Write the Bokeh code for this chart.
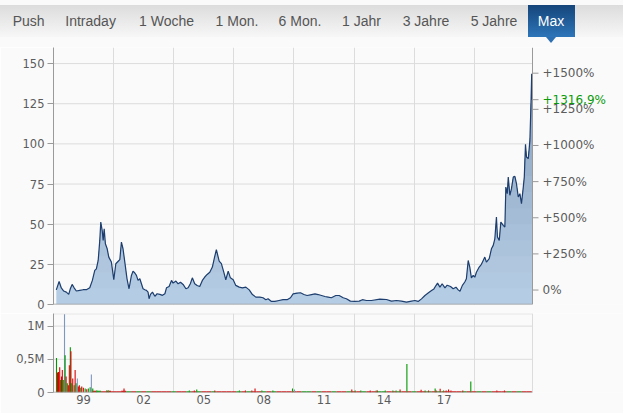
import numpy as np
from bokeh.plotting import figure
from bokeh.layouts import column
from bokeh.models import FixedTicker, Range1d, Div
from bokeh.core.properties import value
from bokeh.embed import file_html
from bokeh.resources import INLINE

# ---------------- data ----------------
tabs = ["Push", "Intraday", "1 Woche", "1 Mon.", "6 Mon.", "1 Jahr", "3 Jahre", "5 Jahre", "Max"]
active_tab = "Max"

years = [1998.14, 1998.28, 1998.39, 1998.51, 1998.64, 1998.76, 1998.84, 1998.93,
         1999.03, 1999.14, 1999.31, 1999.48, 1999.64, 1999.81, 1999.94,
         2000.06, 2000.14, 2000.23, 2000.31, 2000.36, 2000.43, 2000.48, 2000.53, 2000.59, 2000.68, 2000.76, 2000.89,
         2001.01, 2001.11, 2001.23, 2001.31, 2001.39, 2001.47, 2001.56, 2001.67, 2001.77, 2001.89, 2001.97,
         2002.06, 2002.14, 2002.22, 2002.31, 2002.39, 2002.47, 2002.56, 2002.64, 2002.72, 2002.77, 2002.84, 2002.94,
         2003.06, 2003.17, 2003.31, 2003.44, 2003.56, 2003.64, 2003.77, 2003.89, 2003.97,
         2004.11, 2004.22, 2004.34, 2004.47, 2004.61, 2004.72, 2004.83, 2004.93,
         2005.05, 2005.17, 2005.30, 2005.43, 2005.55, 2005.67, 2005.80, 2005.93,
         2006.04, 2006.13, 2006.27, 2006.38, 2006.50, 2006.60, 2006.72, 2006.83, 2006.97,
         2007.10, 2007.27, 2007.43, 2007.60, 2007.77, 2007.93,
         2008.10, 2008.30, 2008.46, 2008.60, 2008.71, 2008.88,
         2009.05, 2009.26, 2009.46, 2009.66, 2009.83, 2009.96,
         2010.16, 2010.33, 2010.50, 2010.66, 2010.88,
         2011.05, 2011.21, 2011.38, 2011.55, 2011.71, 2011.87,
         2012.09, 2012.26, 2012.46, 2012.62, 2012.82,
         2013.04, 2013.26, 2013.42, 2013.62, 2013.87,
         2014.29, 2014.62, 2014.87,
         2015.12, 2015.37, 2015.62, 2015.87,
         2016.04, 2016.20, 2016.37, 2016.54, 2016.70, 2016.87, 2016.99,
         2017.09, 2017.17, 2017.29, 2017.40, 2017.54, 2017.65, 2017.82, 2017.95,
         2018.09, 2018.20, 2018.29, 2018.41, 2018.53, 2018.61, 2018.70, 2018.78, 2018.86, 2018.95,
         2019.03, 2019.11, 2019.25, 2019.36, 2019.45, 2019.53, 2019.61, 2019.75, 2019.86, 2019.95,
         2020.03, 2020.11, 2020.16, 2020.25, 2020.33, 2020.45, 2020.53, 2020.58, 2020.65, 2020.70, 2020.78, 2020.86, 2020.95,
         2021.03, 2021.11, 2021.20, 2021.28, 2021.36, 2021.45, 2021.50, 2021.56, 2021.61, 2021.70, 2021.78, 2021.83, 2021.87, 2021.90]

prices = [9.1, 14.3, 10.3, 8.4, 7.7, 6.3, 9.8, 12.5,
          10.4, 8.4, 8.8, 9.2, 9.2, 10.4, 15.0,
          21.2, 22.2, 27.4, 39.9, 51.3, 46.1, 39.9, 47.2, 37.8, 34.7, 29.5, 26.4,
          15.4, 25.4, 26.9, 27.9, 38.9, 34.7, 26.4, 16.0, 9.8, 18.1, 20.8,
          19.6, 18.1, 15.0, 16.0, 12.9, 9.8, 9.2, 8.8, 7.7, 3.6, 6.3, 7.7,
          5.1, 6.7, 6.3, 5.7, 6.7, 10.4, 11.2, 15.0, 13.3,
          14.6, 12.9, 13.9, 12.5, 9.8, 10.4, 12.9, 16.6,
          12.9, 11.8, 11.2, 15.0, 17.1, 18.7, 20.1, 23.3,
          29.5, 34.1, 27.0, 25.4, 20.2, 15.4, 20.8, 16.6, 15.4,
          11.9, 10.8, 10.4, 10.8, 9.1, 6.2,
          4.6, 4.6, 4.2, 3.0, 3.6, 1.9,
          1.9, 2.5, 3.0, 3.0, 4.2, 6.6,
          7.1, 7.3, 6.2, 5.6, 6.2,
          6.6, 6.2, 5.6, 5.0, 4.6, 4.2,
          5.6, 5.6, 4.2, 3.6, 2.1,
          1.9, 2.1, 3.0, 2.5, 2.5,
          3.3, 3.1, 2.1,
          2.5, 2.1, 1.5, 2.1,
          2.5, 1.9, 3.5, 5.6, 7.1, 8.7, 9.7,
          11.8, 13.3, 10.8, 12.9, 10.4, 12.0, 11.2, 9.8,
          10.8, 9.1, 8.3, 11.9, 14.0, 16.0, 27.4, 23.3, 16.6, 18.1,
          17.0, 20.1, 23.3, 25.0, 27.4, 29.5, 26.4, 28.5, 34.7, 36.8,
          40.9, 54.4, 42.0, 39.9, 51.3, 49.3, 48.2, 73.1, 69.0, 79.3, 68.0, 72.1, 79.3,
          79.8, 75.2, 66.9, 69.0, 62.8, 73.1, 79.3, 99.7, 91.8, 90.8, 102.2, 122.9, 143.6, 127.52]

base_price = 9.0   # reference price for the percent scale

price_ticks = [0, 25, 50, 75, 100, 125, 150]
pct_ticks = [0, 250, 500, 750, 1000, 1250, 1500]
vol_ticks = [0, 0.5, 1.0]
vol_tick_labels = ["0", "0,5M", "1M"]
year_label_pos = [1999.5, 2002.5, 2005.5, 2008.5, 2011.5, 2014.5, 2017.5]
year_labels = ["99", "02", "05", "08", "11", "14", "17"]
year_grid = [2001, 2004, 2007, 2010, 2013, 2016, 2019]

# volume spikes (millions); dir: u = up, d = down, n = unchanged
spike_years = [1998.15, 1998.20, 1998.25, 1998.31, 1998.35, 1998.40, 1998.44, 1998.49, 1998.55, 1998.58,
               1998.63, 1998.69, 1998.74, 1998.79, 1998.84, 1998.87, 1998.91, 1998.96, 1999.03, 1999.08,
               1999.13, 1999.19, 1999.24, 1999.29, 1999.36, 1999.41, 1999.49, 1999.58, 1999.66, 1999.74,
               1999.83, 1999.89, 1999.96, 2000.16, 2000.66, 2000.74, 2001.52,
               2004.78, 2005.03, 2005.15, 2006.05, 2007.28, 2007.58, 2007.90, 2008.06, 2008.40, 2008.95,
               2009.93, 2010.03, 2012.89, 2013.06, 2013.34, 2013.81, 2014.11, 2014.17, 2014.56, 2014.94,
               2015.10, 2015.30, 2015.64, 2016.35, 2016.55, 2016.72, 2017.05, 2017.10, 2017.30, 2017.47,
               2017.60, 2017.72, 2017.84, 2018.43, 2018.83, 2020.13, 2020.51]
spike_vol = [0.52, 0.30, 0.31, 0.38, 0.19, 0.24, 0.34, 0.19, 1.18, 0.56,
             0.24, 0.14, 0.11, 0.41, 0.68, 0.62, 0.14, 0.21, 0.11, 0.34,
             0.14, 0.21, 0.09, 0.11, 0.07, 0.09, 0.07, 0.06, 0.05, 0.06,
             0.08, 0.27, 0.06, 0.03, 0.03, 0.03, 0.06,
             0.03, 0.03, 0.045, 0.03, 0.03, 0.03, 0.03, 0.06, 0.03, 0.03,
             0.06, 0.045, 0.045, 0.03, 0.03, 0.03, 0.03, 0.03, 0.03, 0.03,
             0.03, 0.045, 0.43, 0.04, 0.03, 0.03, 0.06, 0.03, 0.055, 0.03,
             0.03, 0.045, 0.03, 0.03, 0.165, 0.03, 0.03]
spike_dir = ["u", "d", "d", "d", "u", "d", "d", "u", "n", "u",
             "d", "u", "d", "d", "u", "d", "u", "d", "u", "d",
             "u", "n", "d", "d", "u", "d", "d", "u", "d", "u",
             "u", "n", "u", "u", "u", "u", "d",
             "u", "d", "u", "d", "u", "d", "d", "d", "u", "u",
             "u", "n", "d", "u", "u", "d", "u", "d", "u", "u",
             "u", "d", "u", "d", "u", "d", "u", "d", "d", "u",
             "d", "d", "d", "d", "u", "d", "d"]

# thin background volume strip, quarterly
base_years = [2000.0, 2000.25, 2000.5, 2000.75, 2001.0, 2001.25, 2001.5, 2001.75,
              2002.0, 2002.25, 2002.5, 2002.75, 2003.0, 2003.25, 2003.5, 2003.75,
              2004.0, 2004.25, 2004.5, 2004.75, 2005.0, 2005.25, 2005.5, 2005.75,
              2006.0, 2006.25, 2006.5, 2006.75, 2007.0, 2007.25, 2007.5, 2007.75,
              2008.0, 2008.25, 2008.5, 2008.75, 2009.0, 2009.25, 2009.5, 2009.75,
              2010.0, 2010.25, 2010.5, 2010.75, 2011.0, 2011.25, 2011.5, 2011.75,
              2012.0, 2012.25, 2012.5, 2012.75, 2013.0, 2013.25, 2013.5, 2013.75,
              2014.0, 2014.25, 2014.5, 2014.75, 2015.0, 2015.25, 2015.5, 2015.75,
              2016.0, 2016.25, 2016.5, 2016.75, 2017.0, 2017.25, 2017.5, 2017.75,
              2018.0, 2018.25, 2018.5, 2018.75, 2019.0, 2019.25, 2019.5, 2019.75,
              2020.0, 2020.25, 2020.5, 2020.75, 2021.0, 2021.25, 2021.5, 2021.75]
base_vol = [0.025, 0.025, 0.02, 0.025, 0.02, 0.02, 0.025, 0.02,
            0.02, 0.02, 0.02, 0.02, 0.02, 0.02, 0.02, 0.02,
            0.02, 0.02, 0.02, 0.02, 0.02, 0.02, 0.02, 0.02,
            0.02, 0.02, 0.02, 0.02, 0.02, 0.02, 0.02, 0.02,
            0.02, 0.02, 0.02, 0.02, 0.02, 0.02, 0.02, 0.02,
            0.02, 0.02, 0.02, 0.02, 0.02, 0.02, 0.02, 0.02,
            0.02, 0.02, 0.02, 0.02, 0.02, 0.02, 0.02, 0.02,
            0.02, 0.02, 0.02, 0.02, 0.02, 0.02, 0.02, 0.02,
            0.02, 0.02, 0.02, 0.02, 0.02, 0.02, 0.02, 0.02,
            0.02, 0.02, 0.02, 0.02, 0.02, 0.02, 0.02, 0.02,
            0.02, 0.02, 0.02, 0.02, 0.02, 0.02, 0.02, 0.02]
base_dir = list("dudd" "dddu" "dudu" "dddd" "uddu" "dudd" "uddd" "dudu" "ddud" "uddd" "dduu"
                "dudd" "uddu" "ddud" "duud" "dudd" "uddu" "dudd" "ddud" "dudu" "dddu" "dudd")

# ---------------- styles / layout ----------------
BG = "#fafafa"
GRID = "#dcdcdc"
AXIS = "#9a9a9a"
TXT = "#5c5c5c"
GREEN_TXT = "#0b9a0b"
FONT = "DejaVu Sans"
DIR_COLORS = {"u": "#009a00", "d": "#dd0000", "n": "#7c98bf"}
X0, X1 = 1998.0, 2021.91      # visible chart time span
Y1 = 160
LEFT_B = 53                    # px left of the chart
CHART_W = 479                  # px width of chart area
PX = (X1 - X0) / CHART_W       # years per pixel
X_EDGE = X0 + PX * (623 - LEFT_B)   # frame extends to the right page edge (for the % scale)

# ---------------- tab bar (HTML) ----------------
tab_centers = [28.6, 90.6, 166.5, 237, 300, 361.5, 426, 494, 551]
parts = ['<div style="position:absolute;left:0;top:5px;width:623px;height:32px;'
         'background:linear-gradient(to bottom,#dcdcdc,#f7f7f7);"></div>']
for name, cx in zip(tabs, tab_centers):
    if name == active_tab:
        parts.append('<div style="position:absolute;left:%.1fpx;top:5px;width:47px;height:32px;'
                     'background:linear-gradient(to bottom,#15457a,#2d75b9);"></div>' % (cx - 23))
        parts.append('<div style="position:absolute;left:%.1fpx;top:37px;width:0;height:0;'
                     'border-left:5px solid transparent;border-right:5px solid transparent;'
                     'border-top:6px solid #2c70b3;"></div>' % (cx - 5))
        color = "#ffffff"
    else:
        color = "#555555"
    parts.append('<div style="position:absolute;left:%.1fpx;top:5px;width:100px;height:32px;'
                 'line-height:33px;text-align:center;color:%s;">%s</div>' % (cx - 50, color, name))
html = ('<div style="position:relative;width:623px;height:47px;overflow:hidden;background:%s;'
        'font-family:\'Liberation Sans\',Arial,sans-serif;font-size:14px;">%s</div>' % (BG, "".join(parts)))
tabbar = Div(text=html, width=623, height=47, styles={"margin": "0", "padding": "0"})

# ---------------- main chart ----------------
p = figure(width=623, height=266, x_range=Range1d(X0, X_EDGE), y_range=Range1d(0, Y1),
           toolbar_location=None, output_backend="svg", x_axis_location=None,
           min_border_left=LEFT_B, min_border_right=0, min_border_top=0, min_border_bottom=9)
p.background_fill_color = BG
p.border_fill_color = BG
p.outline_line_color = None
p.xgrid.ticker = FixedTicker(ticks=year_grid)
p.xgrid.grid_line_color = GRID
p.ygrid.visible = False
hg = price_ticks[1:]
p.segment(x0=[X0] * len(hg), y0=hg, x1=[X1] * len(hg), y1=hg, line_color=GRID, line_width=1)

# area with a vertical colour gradient (stacked opaque bands)
pr = np.array(prices)
edges = list(range(0, 150, 10))
c_lo = np.array([181, 205, 228]); c_hi = np.array([136, 158, 188])
for k, e in enumerate(edges):
    f = k / (len(edges) - 1)
    col = c_lo + (c_hi - c_lo) * f
    lo = np.minimum(pr, e)
    p.varea(x=years, y1=lo, y2=pr, fill_color="#%02x%02x%02x" % tuple(int(round(c)) for c in col))
p.line(x=years, y=prices, line_color="#1d3e6e", line_width=1.2)
# bottom axis line of the price panel
p.segment(x0=[X0], y0=[0], x1=[X1], y1=[0], line_color=AXIS, line_width=1.5)

yax = p.yaxis[0]
yax.ticker = FixedTicker(ticks=price_ticks)
yax.axis_line_color = AXIS
yax.major_tick_line_color = AXIS
yax.major_tick_out = 6
yax.major_tick_in = 0
yax.minor_tick_line_color = None
yax.major_label_standoff = 3
yax.major_label_text_font = FONT
yax.major_label_text_font_size = "11.5px"
yax.major_label_text_color = TXT

# percent scale on the right (price = base * (1 + pct/100))
pct_prices = [base_price * (1 + t_ / 100) for t_ in pct_ticks]
pct_labels = ["0%" if t_ == 0 else "+%d%%" % t_ for t_ in pct_ticks]
cur_pct = (prices[-1] / base_price - 1) * 100
cur_text = ("+%.1f%%" % cur_pct).replace(".", ",")
tick_y = pct_prices + [prices[-1]]
p.segment(x0=[X1], y0=[0], x1=[X1], y1=[Y1], line_color=AXIS, line_width=1)
p.segment(x0=[X1] * len(tick_y), y0=tick_y, x1=[X1 + 6 * PX] * len(tick_y), y1=tick_y,
          line_color=AXIS, line_width=1)
p.text(x=[X1 + 10 * PX] * len(pct_prices), y=pct_prices, text=pct_labels,
       text_align="left", text_baseline="middle", text_font=value(FONT),
       text_font_size="12px", text_color=TXT)
p.text(x=[X1 + 10 * PX], y=[prices[-1]], text=[cur_text],
       text_align="left", text_baseline="middle", text_font=value(FONT),
       text_font_size="12px", text_color=GREEN_TXT)

# ---------------- volume chart ----------------
VTOP = 1.19
v = figure(width=623, height=100, x_range=p.x_range, y_range=Range1d(0, VTOP),
           toolbar_location=None, output_backend="svg",
           min_border_left=LEFT_B, min_border_right=0, min_border_top=0, min_border_bottom=21)
v.background_fill_color = BG
v.border_fill_color = BG
v.outline_line_color = None
v.xgrid.ticker = FixedTicker(ticks=year_grid)
v.xgrid.grid_line_color = GRID
v.ygrid.visible = False
vg = vol_ticks[1:]
v.segment(x0=[X0] * len(vg), y0=vg, x1=[X1] * len(vg), y1=vg, line_color=GRID, line_width=1)
# panel border (top and right)
v.segment(x0=[X0, X1], y0=[VTOP * 0.996, 0], x1=[X1, X1], y1=[VTOP * 0.996, VTOP], line_color=GRID, line_width=1)
v.vbar(x=base_years, top=base_vol, width=0.25, fill_color=[DIR_COLORS[d] for d in base_dir], line_color=None)
v.vbar(x=spike_years, top=spike_vol, width=0.055, fill_color=[DIR_COLORS[d] for d in spike_dir], line_color=None)
v.segment(x0=[X0], y0=[0], x1=[X1], y1=[0], line_color=AXIS, line_width=1.5)

vy = v.yaxis[0]
vy.ticker = FixedTicker(ticks=vol_ticks)
vy.major_label_overrides = {tk: lb for tk, lb in zip(vol_ticks, vol_tick_labels)}
vx = v.xaxis[0]
vx.ticker = FixedTicker(ticks=year_label_pos)
vx.major_label_overrides = {tk: lb for tk, lb in zip(year_label_pos, year_labels)}
for ax in [vy, vx]:
    ax.axis_line_color = AXIS
    ax.major_tick_line_color = AXIS
    ax.major_tick_out = 6
    ax.major_tick_in = 0
    ax.minor_tick_line_color = None
    ax.major_label_standoff = 3
    ax.major_label_text_font = FONT
    ax.major_label_text_font_size = "11.5px"
    ax.major_label_text_color = TXT
vx.axis_line_color = None
vx.major_tick_line_color = None
vx.major_tick_out = 0
vx.major_label_standoff = 2

layout = column(tabbar, p, v, spacing=0)

open("out.html", "w").write(file_html(layout, INLINE))
